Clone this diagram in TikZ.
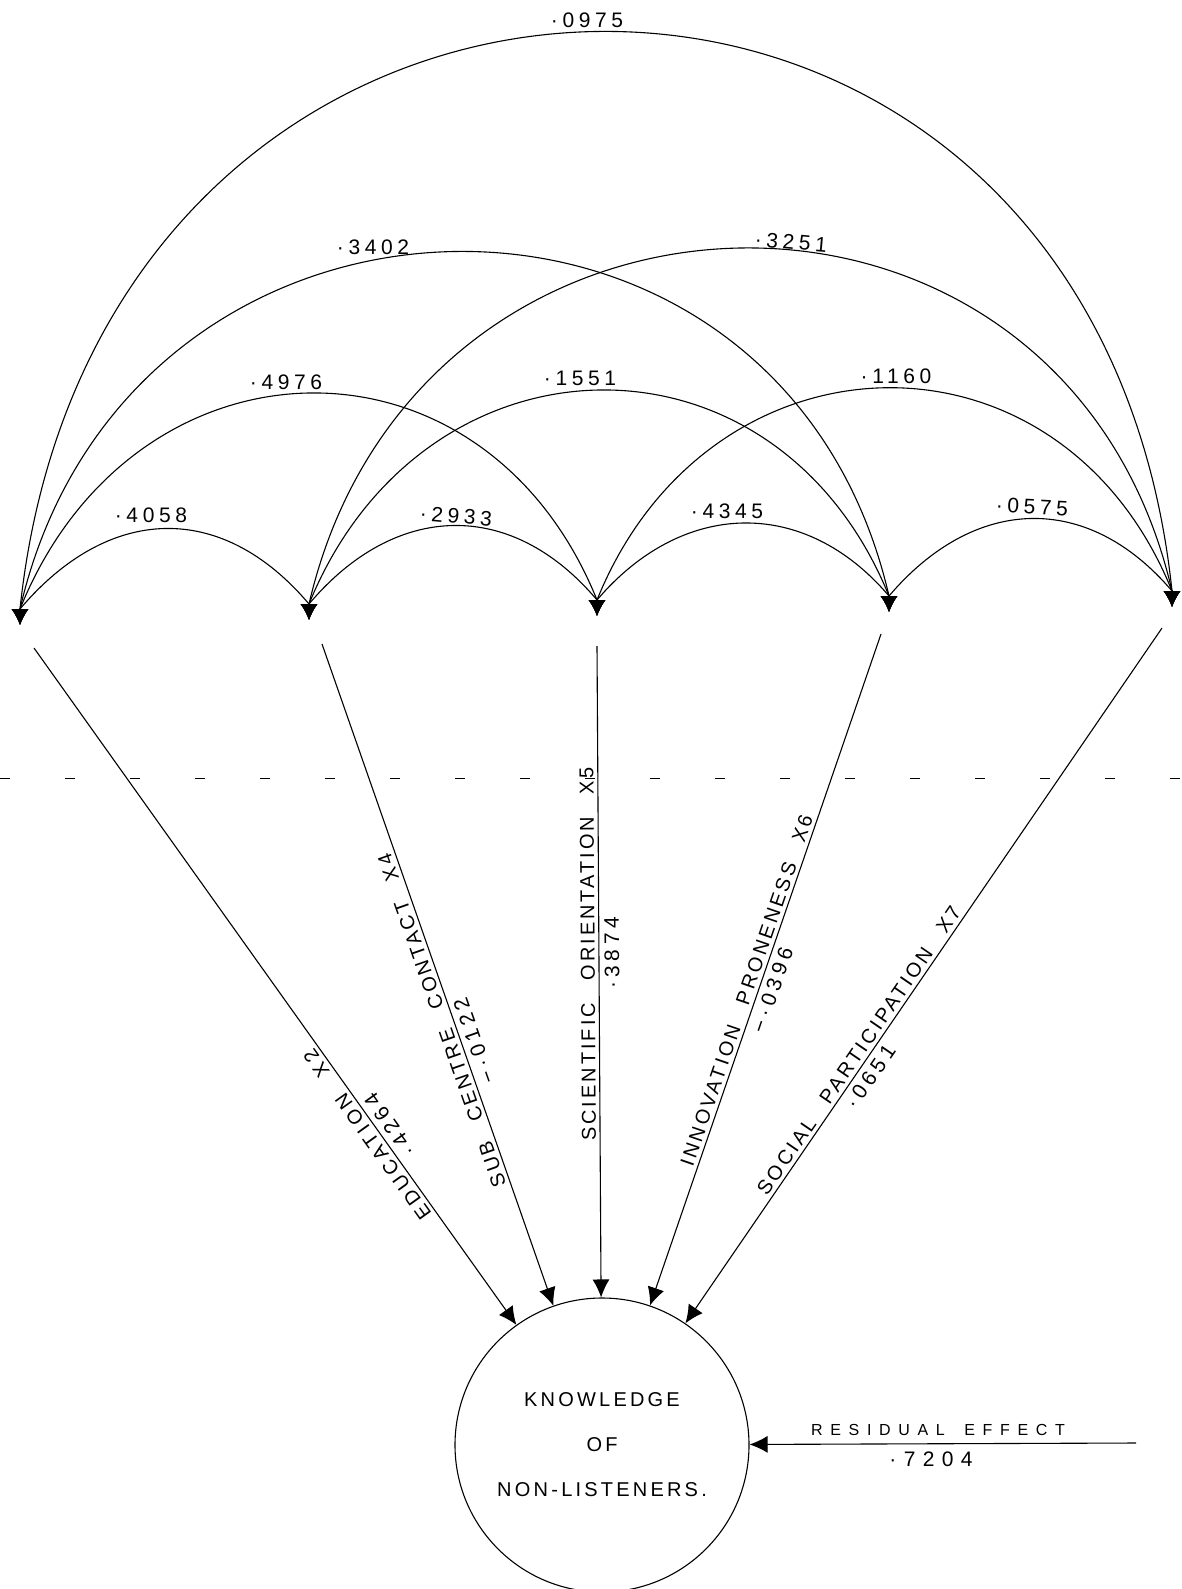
\documentclass[tikz,border=0pt]{standalone}
\usepackage{fontspec}
\setmainfont{Liberation Sans}
\newfontfamily\labfont{Liberation Sans}[LetterSpace=15,WordSpace=2.6]
\newfontfamily\labA{Liberation Sans}[LetterSpace=21,WordSpace=2.6]
\newfontfamily\knfont{Liberation Sans}[LetterSpace=16]
\newfontfamily\numfont{Liberation Sans}[LetterSpace=22]
\newfontfamily\resfont{Liberation Sans}[LetterSpace=48,WordSpace=1.6]
\newfontfamily\resnum{Liberation Sans}[LetterSpace=35]
\usetikzlibrary{arrows.meta,calc}
\begin{document}
\begin{tikzpicture}[x=1pt,y=-1pt,line width=1.1pt,
  arcline/.style={{Latex[length=16pt,width=17pt]}-{Latex[length=16pt,width=17pt]}},
  pathline/.style={-{Latex[length=18pt,width=17pt]}},
  namelab/.style={inner sep=3.5pt},
  numlab/.style={font=\numfont\fontsize{21}{23}\selectfont, inner sep=5pt},
  arclab/.style={font=\numfont\fontsize{21}{23}\selectfont, inner sep=0pt},
  scanrule/.style={line width=0.9pt, dash pattern=on 10pt off 55pt}]
\useasboundingbox (0,0) rectangle (1181,1589);

% variable points (arrow tips) and starts of the paths
\coordinate (t2) at (20,625);
\coordinate (t4) at (309,620);
\coordinate (t5) at (597,616);
\coordinate (t6) at (889,612);
\coordinate (t7) at (1172,607);
\coordinate (s2) at (34,648);
\coordinate (s4) at (322,644);
\coordinate (s5) at (597,646);
\coordinate (s6) at (881,634);
\coordinate (s7) at (1162,628);

% dependent variable
\node[circle, draw, minimum size=294pt, inner sep=0pt, align=center,
      font=\knfont\fontsize{20}{45}\selectfont] (K) at (602,1445)
      {KNOWLEDGE\\OF\\NON\,-\,LISTENERS.};

% faint ruled line of the sheet
\draw[scanrule] (0,778) -- (1181,778);

% correlation arcs
\draw[arcline] (t2) -- ++(0,-16) .. controls +(88,-104) and +(-88,-104) .. ($(t4)+(0,-16)$) -- (t4);
\draw[arcline] (t4) -- ++(0,-16) .. controls +(86,-102) and +(-86,-102) .. ($(t5)+(0,-16)$) -- (t5);
\draw[arcline] (t5) -- ++(0,-16) .. controls +(85,-100) and +(-85,-100) .. ($(t6)+(0,-16)$) -- (t6);
\draw[arcline] (t6) -- ++(0,-16) .. controls +(85,-100) and +(-85,-100) .. ($(t7)+(0,-16)$) -- (t7);
\draw[arcline] (t2) -- ++(0,-16) .. controls +(114,-282) and +(-114,-282) .. ($(t5)+(0,-16)$) -- (t5);
\draw[arcline] (t4) -- ++(0,-16) .. controls +(114,-280) and +(-114,-280) .. ($(t6)+(0,-16)$) -- (t6);
\draw[arcline] (t5) -- ++(0,-16) .. controls +(112,-277) and +(-112,-277) .. ($(t7)+(0,-16)$) -- (t7);
\draw[arcline] (t2) -- ++(0,-16) .. controls +(108,-468) and +(-108,-468) .. ($(t6)+(0,-16)$) -- (t6);
\draw[arcline] (t4) -- ++(0,-16) .. controls +(108,-466) and +(-108,-466) .. ($(t7)+(0,-16)$) -- (t7);
\draw[arcline] (t2) -- ++(0,-16) .. controls +(80,-758) and +(-80,-758) .. ($(t7)+(0,-16)$) -- (t7);

% arc labels
\node[arclab] (c27) at (587,20) {·0975};
\node[arclab] (c26) at (373,247) {·3402};
\node[arclab, rotate=-5] (c47) at (791,242) {·3251};
\node[arclab] (c25) at (286,382) {·4976};
\node[arclab] (c46) at (580,378) {·1551};
\node[arclab] (c57) at (896,376) {·1160};
\node[arclab] (c24) at (151,515) {·4058};
\node[arclab, rotate=-5] (c45) at (456,516) {·2933};
\node[arclab] (c56) at (727,511) {·4345};
\node[arclab, rotate=-3] (c67) at (1032,507) {·0575};

% paths to the dependent variable
\draw[pathline] (s2) -- (K);
\draw[pathline] (s4) -- (K);
\draw[pathline] (s5) -- (K);
\draw[pathline] (s6) -- (K);
\draw[pathline] (s7) -- (K);

\node[namelab, rotate=125.5, anchor=south, font=\labA\fontsize{20}{22}\selectfont] (n2) at ($(s2)!590pt!(K.center)$) {EDUCATION X2};
\node[numlab, rotate=125.5, anchor=north] (p2) at ($(s2)!595pt!(K.center)$) {·4264};

\node[namelab, rotate=109.3, anchor=south, font=\labfont\fontsize{20}{22}\selectfont] (n4) at ($(s4)!395pt!(K.center)$) {SUB CENTRE CONTACT X4};
\node[numlab, rotate=109.3, anchor=north] (p4) at ($(s4)!425pt!(K.center)$) {−·0122};

\node[namelab, rotate=90.4, anchor=south, font=\labfont\fontsize{20}{22}\selectfont] (n5) at ($(s5)!308pt!(K.center)$) {SCIENTIFIC ORIENTATION X5};
\node[numlab, rotate=90.4, anchor=north] (p5) at ($(s5)!307pt!(K.center)$) {·3874};

\node[namelab, rotate=71, anchor=south, font=\labfont\fontsize{20}{22}\selectfont] (n6) at ($(s6)!381pt!(K.center)$) {INNOVATION PRONENESS X6};
\node[numlab, rotate=71, anchor=north] (p6) at ($(s6)!372pt!(K.center)$) {−·0396};

\node[namelab, rotate=55.6, anchor=south, font=\labfont\fontsize{20}{22}\selectfont] (n7) at ($(s7)!520pt!(K.center)$) {SOCIAL PARTICIPATION X7};
\node[numlab, rotate=55.6, anchor=north] (p7) at ($(s7)!535pt!(K.center)$) {·0651};

% residual effect
\coordinate (res) at (1136,1443);
\draw[pathline] (res) -- (K);
\node[font=\resfont\fontsize{16}{18}\selectfont] (rl) at (938,1430) {RESIDUAL EFFECT};
\node[font=\resnum\fontsize{21}{23}\selectfont] (rv) at (931,1459) {·7204};
\end{tikzpicture}
\end{document}
